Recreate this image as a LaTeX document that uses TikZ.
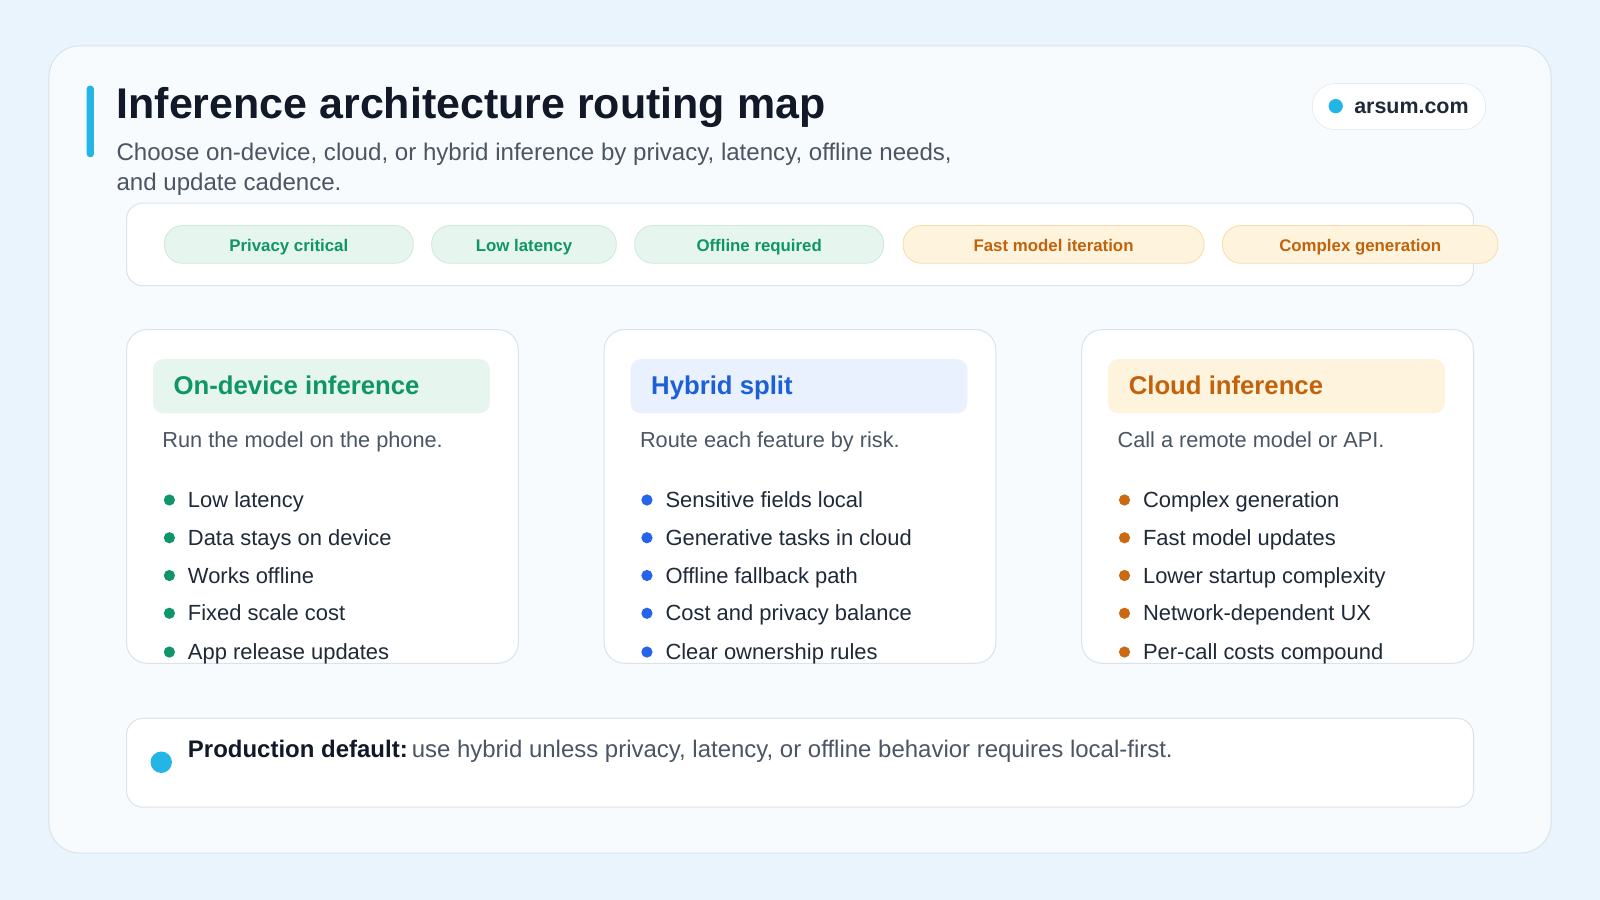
\documentclass[tikz,border=0pt]{standalone}
\usepackage{fontspec}
\setmainfont{Liberation Sans}
\definecolor{bg}{HTML}{EAF4FC}
\definecolor{card}{HTML}{F8FBFD}
\definecolor{line}{HTML}{D8E3EC}
\definecolor{cyan}{HTML}{22B5E6}
\definecolor{ink}{HTML}{111827}
\definecolor{txt}{HTML}{1F2937}
\definecolor{muted}{HTML}{4B5563}
\definecolor{gfill}{HTML}{E6F5EE}
\definecolor{gline}{HTML}{CBEBDB}
\definecolor{gtxt}{HTML}{0E9568}
\definecolor{ofill}{HTML}{FEF3DD}
\definecolor{oline}{HTML}{F6DDB0}
\definecolor{otxt}{HTML}{C2620C}
\definecolor{bfill}{HTML}{E9F0FE}
\definecolor{btxt}{HTML}{1D5FD8}
\definecolor{bdot}{HTML}{2563EB}
\definecolor{odot}{HTML}{C96A12}
\tikzset{
 chip/.style={rounded corners=18pt,line width=0.8pt},
 chiptext/.style={anchor=base,inner sep=0pt,font=\fontsize{16.5}{19}\selectfont\bfseries},
 cardbox/.style={rounded corners=20pt,draw=line,fill=white,line width=1pt},
 item/.style={anchor=base west,font=\fontsize{21.5}{25}\selectfont,text=txt,inner sep=0pt},
 desc/.style={anchor=base west,font=\fontsize{21.3}{25}\selectfont,text=muted,inner sep=0pt},
 head/.style={anchor=base west,font=\fontsize{25.2}{30}\selectfont\bfseries,inner sep=0pt},
}
\begin{document}
\begin{tikzpicture}[x=1pt,y=-1pt]
\fill[bg] (0,0) rectangle (1568,882);
\useasboundingbox (0,0) rectangle (1568,882);
\draw[line,fill=card,rounded corners=30pt,line width=1pt] (48,45) rectangle (1520,836);
\fill[cyan,rounded corners=3pt] (85,84) rectangle (92,154);
\node[anchor=base west,inner sep=0pt,text=ink,font=\fontsize{42.1}{48}\selectfont\bfseries] (title) at (114,116) {Inference architecture routing map};
\node[anchor=base west,inner sep=0pt,text=muted,font=\fontsize{23.6}{28}\selectfont] (sub1) at (114,157) {Choose on-device, cloud, or hybrid inference by privacy, latency, offline needs,};
\node[anchor=base west,inner sep=0pt,text=muted,font=\fontsize{23.6}{28}\selectfont] (sub2) at (114,187) {and update cadence.};
\draw[line,fill=white,rounded corners=22pt] (1286,82) rectangle (1456,127);
\fill[cyan] (1309,104) circle (7);
\node[anchor=base west,inner sep=0pt,text=txt,font=\fontsize{21}{24}\selectfont\bfseries] (brand) at (1327,111) {arsum.com};
\draw[line,fill=white,rounded corners=16pt,line width=1pt] (124,199) rectangle (1444,280);
\draw[chip,fill=gfill,draw=gline] (161,221) rectangle (405,258); \node[chiptext,text=gtxt] (c1) at (283,246) {Privacy critical};
\draw[chip,fill=gfill,draw=gline] (423,221) rectangle (604,258); \node[chiptext,text=gtxt] (c2) at (513.5,246) {Low latency};
\draw[chip,fill=gfill,draw=gline] (622,221) rectangle (866,258); \node[chiptext,text=gtxt] (c3) at (744,246) {Offline required};
\draw[chip,fill=ofill,draw=oline] (885,221) rectangle (1180,258); \node[chiptext,text=otxt] (c4) at (1032.5,246) {Fast model iteration};
\draw[chip,fill=ofill,draw=oline] (1198,221) rectangle (1468,258); \node[chiptext,text=otxt] (c5) at (1333,246) {Complex generation};
% cards
\foreach \cx/\cfil/\ctxt/\cdot/\chead/\cdesc/\ia/\ib/\ic/\id/\ie in {
 124/gfill/gtxt/gtxt/On-device inference/Run the model on the phone./Low latency/Data stays on device/Works offline/Fixed scale cost/App release updates,
 592/bfill/btxt/bdot/Hybrid split/Route each feature by risk./Sensitive fields local/Generative tasks in cloud/Offline fallback path/Cost and privacy balance/Clear ownership rules,
 1060/ofill/otxt/odot/Cloud inference/Call a remote model or API./Complex generation/Fast model updates/Lower startup complexity/Network-dependent UX/Per-call costs compound}{
 \draw[cardbox] (\cx,323) rectangle (\cx+384,650);
 \fill[fill=\cfil,rounded corners=10pt] (\cx+26,352) rectangle (\cx+356,405);
 \node[head,text=\ctxt] at (\cx+46,387) {\chead};
 \node[desc] at (\cx+35,439) {\cdesc};
 \foreach \yy/\itxt in {490/\ia,527/\ib,564/\ic,601/\id,639/\ie}{
  \fill[fill=\cdot] (\cx+42,\yy) circle (5.5);
  \node[item] at (\cx+60,\yy+7.5) {\itxt};
 }
}
\draw[cardbox,rounded corners=16pt] (124,704) rectangle (1444,791);
\fill[cyan] (158,747) circle (10.5);
\node[anchor=base west,inner sep=0pt,font=\fontsize{23.5}{27}\selectfont,text=muted] (note) at (184,742) {\textcolor{ink}{\bfseries Production default:}\,use hybrid unless privacy, latency, or offline behavior requires local-first.};
\end{tikzpicture}
\end{document}
